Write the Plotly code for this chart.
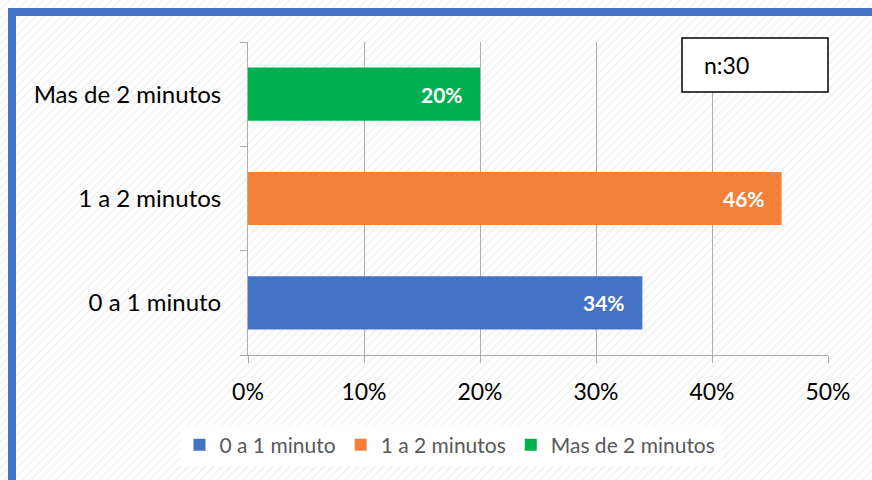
import base64
import plotly.graph_objects as go

categories = ["0 a 1 minuto", "1 a 2 minutos", "Mas de 2 minutos"]
values = [34, 46, 20]
labels = ["34%", "46%", "20%"]
colors = ["#4472C4", "#F4813A", "#00B050"]
x_ticks = [0, 10, 20, 30, 40, 50]
x_tick_labels = ["0%", "10%", "20%", "30%", "40%", "50%"]
note_text = "n:30"

FONT = "Lato, 'Open Sans', sans-serif"

# plot area pixel geometry
L, R, T, B = 248, 828, 42, 355
W, H = 872, 480
pw, ph = R - L, B - T

def px(x):
    return (x - L) / pw

def py(y):
    return (B - y) / ph

svg = ('<svg xmlns="http://www.w3.org/2000/svg" width="872" height="480">'
       '<defs><pattern id="p" width="6" height="6" patternUnits="userSpaceOnUse" '
       'patternTransform="rotate(45)"><rect width="6" height="6" fill="#ffffff"/>'
       '<rect width="2" height="6" fill="#f3f3f3"/></pattern></defs>'
       '<rect width="872" height="480" fill="url(#p)"/></svg>')
uri = "data:image/svg+xml;base64," + base64.b64encode(svg.encode()).decode()

fig = go.Figure()
for cat, v, c in zip(categories, values, colors):
    fig.add_trace(go.Bar(
        y=[cat], x=[v], orientation="h", name=cat,
        marker=dict(color=c, line=dict(width=0)),
        width=0.51,
        hoverinfo="skip",
    ))

annotations = [
    dict(text=lab, x=v, y=cat, xref="x", yref="y", xanchor="right", yanchor="middle",
         xshift=-15, showarrow=False,
         font=dict(color="white", size=21, family=FONT, weight="bold"))
    for cat, v, lab in zip(categories, values, labels)
]
annotations.append(
    dict(text=note_text, xref="paper", yref="paper", x=px(702), y=py(65),
         xanchor="left", yanchor="middle", showarrow=False,
         font=dict(size=23, color="black", family=FONT)))

fig.update_layout(
    width=W, height=H,
    margin=dict(l=L, r=W - R, t=T, b=H - B, pad=0),
    barmode="overlay",
    paper_bgcolor="white",
    plot_bgcolor="rgba(0,0,0,0)",
    font=dict(family=FONT, color="black"),
    showlegend=True,
    legend=dict(
        orientation="h", x=px(450), xanchor="center", y=py(445), yanchor="middle",
        font=dict(size=21, color="#595959", family=FONT),
        bgcolor="rgba(255,255,255,0.85)",
        itemwidth=30, traceorder="normal",
    ),
    images=[dict(source=uri, xref="paper", yref="paper",
                 x=px(0), y=py(0), sizex=W / pw, sizey=H / ph,
                 xanchor="left", yanchor="top", sizing="stretch", layer="below")],
    xaxis=dict(
        range=[0, 50], tickvals=x_ticks, ticktext=x_tick_labels,
        showgrid=True, gridcolor="#ababab", gridwidth=1,
        showline=True, linecolor="#ababab", linewidth=1,
        ticks="outside", ticklen=7, tickcolor="#ababab",
        tickfont=dict(size=23, color="black", family=FONT),
        ticklabelstandoff=9,
        zeroline=False, fixedrange=True,
    ),
    yaxis=dict(
        type="category", categoryorder="array", categoryarray=categories,
        range=[-0.5, 2.5],
        showline=True, linecolor="#ababab", linewidth=1,
        ticks="outside", ticklen=7, tickcolor="#ababab", tickson="boundaries",
        tickfont=dict(size=24, color="black", family=FONT),
        ticklabelstandoff=21,
        showgrid=False, zeroline=False, fixedrange=True,
    ),
    shapes=[
        dict(type="rect", xref="paper", yref="paper",
             x0=px(12), x1=px(1200), y0=py(1000), y1=py(12),
             line=dict(color="#4472C4", width=8), fillcolor="rgba(0,0,0,0)", layer="above"),
        dict(type="rect", xref="paper", yref="paper",
             x0=px(682), x1=px(828), y0=py(92), y1=py(38),
             line=dict(color="black", width=1.5), fillcolor="white", layer="above"),
    ],
    annotations=annotations,
)

fig.write_html("out.html", config={"displayModeBar": False},
               post_script="document.body.style.margin='0px';document.body.style.overflow='hidden';")
